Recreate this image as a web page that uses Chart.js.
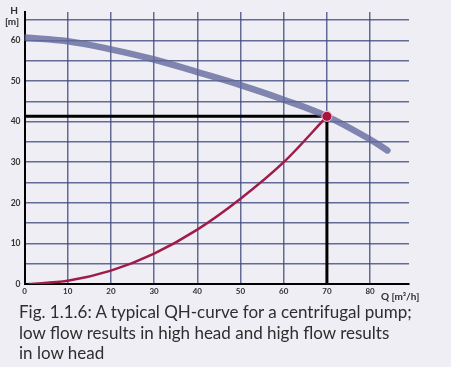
<!DOCTYPE html>
<html>
<head>
<meta charset="utf-8">
<script src="https://cdn.jsdelivr.net/npm/chart.js@4"></script>
<style>
  body { margin: 0; background: #eeeef4; }
  #wrap { position: relative; width: 451px; height: 367px; }
  #chart-box { position: absolute; left: 0; top: 0; width: 451px; height: 304px; }
  #caption {
    position: absolute; left: 19px; top: 302px;
    font-family: Lato, "Open Sans", sans-serif; font-size: 17px; line-height: 20.5px;
    color: #2e2e2e;
  }
</style>
</head>
<body>
<div id="wrap">
  <div id="chart-box"><canvas id="qh-chart"></canvas></div>
  <div id="caption">Fig. 1.1.6: A typical QH-curve for a centrifugal pump;<br>low flow results in high head and high flow results<br>in low head</div>
</div>
<script>
// pump curve (QH)
var qhFlow = [0, 10, 20, 30, 40, 50, 60, 70, 80, 84];
var qhHead = [60.7, 59.8, 57.8, 55.3, 52.2, 49.0, 45.4, 41.3, 35.6, 32.9];

// system curve
var sysFlow = [1, 10, 20, 30, 40, 50, 60, 70];
var sysHead = [0, 0.8, 3.3, 7.5, 13.4, 21, 30, 41.3];

// duty point
var dutyFlow = 70;
var dutyHead = 41.3;

// axes
var xTicks = [0, 10, 20, 30, 40, 50, 60, 70, 80];
var yGrid = [0, 5, 10, 15, 20, 25, 30, 35, 40, 45, 50, 55, 60, 65];
var yLabels = [0, 10, 20, 30, 40, 50, 60];

var gridColor = 'rgba(62, 74, 125, 0.8)';

var axisText = {
  id: 'axisText',
  afterDraw: function (chart) {
    var ctx = chart.ctx;
    ctx.save();
    ctx.fillStyle = '#2e2e2e';
    ctx.font = 'bold 10px Lato, sans-serif';
    ctx.textAlign = 'center';
    ctx.textBaseline = 'middle';
    ctx.fillText('H', 14, 11);
    ctx.fillText('[m]', 12, 22);
    ctx.textAlign = 'left';
    ctx.fillText('Q [m\u00B3/h]', 381, 297);
    ctx.restore();
  }
};

new Chart(document.getElementById('qh-chart'), {
  type: 'line',
  data: {
    datasets: [
      {
        label: 'duty point',
        data: [{ x: dutyFlow, y: dutyHead }],
        pointRadius: 5,
        pointBackgroundColor: '#a8143f',
        pointBorderColor: '#f3c9d3',
        pointBorderWidth: 1,
        showLine: false,
        order: 0
      },
      {
        label: 'QH',
        data: qhFlow.map((q, i) => ({ x: q, y: qhHead[i] })),
        borderColor: 'rgba(96, 104, 155, 0.78)',
        borderWidth: 6.5,
        borderCapStyle: 'round',
        pointRadius: 0,
        tension: 0.4,
        order: 1
      },
      {
        label: 'system',
        data: sysFlow.map((q, i) => ({ x: q, y: sysHead[i] })),
        borderColor: '#a01c48',
        borderWidth: 2.5,
        pointRadius: 0,
        cubicInterpolationMode: 'monotone',
        order: 2
      },
      {
        label: 'duty lines',
        data: [{ x: 0, y: dutyHead }, { x: dutyFlow, y: dutyHead }, { x: dutyFlow, y: 0 }],
        borderColor: '#000',
        borderWidth: 3,
        pointRadius: 0,
        tension: 0,
        order: 3
      }
    ]
  },
  options: {
    responsive: true,
    maintainAspectRatio: false,
    animation: false,
    layout: { padding: { left: 0, right: 42, top: 12, bottom: 0 } },
    plugins: { legend: { display: false }, tooltip: { enabled: false } },
    scales: {
      x: {
        type: 'linear',
        min: 0,
        max: 89,
        afterBuildTicks: function (axis) { axis.ticks = xTicks.map(v => ({ value: v })); },
        afterFit: function (axis) { axis.height = 20; },
        grid: { color: gridColor, lineWidth: 1.5, drawTicks: false },
        border: { color: '#000', width: 2 },
        ticks: {
          padding: 3,
          color: '#333',
          font: { family: 'Lato', size: 8, weight: 'bold' }
        }
      },
      y: {
        min: 0,
        max: 67,
        afterBuildTicks: function (axis) { axis.ticks = yGrid.map(v => ({ value: v })); },
        afterFit: function (axis) { axis.width = 24.5; },
        grid: { color: gridColor, lineWidth: 1.5, drawTicks: false },
        border: { color: '#000', width: 2 },
        ticks: {
          padding: 4,
          color: '#333',
          font: { family: 'Lato', size: 8.5, weight: 'bold' },
          callback: function (v) { return yLabels.indexOf(v) >= 0 ? v : ''; }
        }
      }
    }
  },
  plugins: [axisText]
});
</script>
</body>
</html>
